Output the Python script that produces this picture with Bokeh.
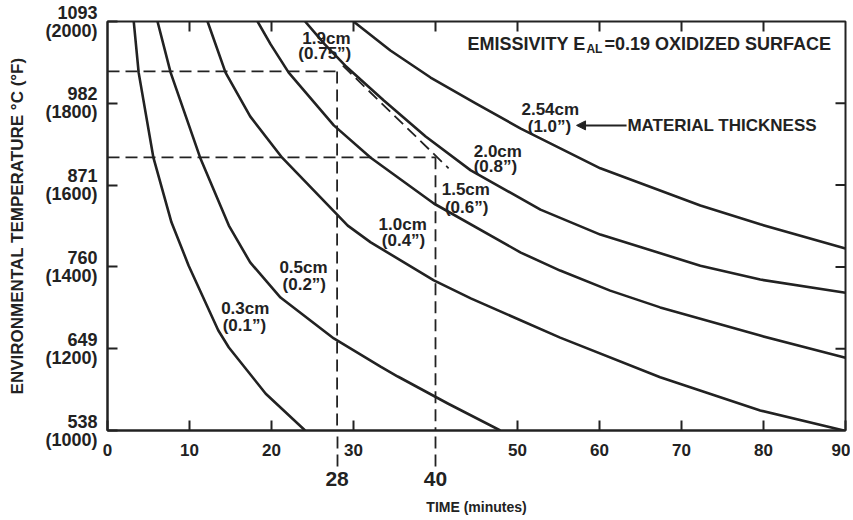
from bokeh.plotting import figure
from bokeh.models import Range1d, FixedTicker, LinearAxis, Arrow, NormalHead
from bokeh.core.properties import value
from bokeh.embed import file_html
from bokeh.resources import INLINE

# ---- data (time in minutes, environmental temperature in deg F) ----
t_03 = [3.2, 3.8, 5.6, 7.8, 9.9, 13.5, 14.8, 19.3, 24.1]
f_03 = [2000, 1875, 1667, 1509, 1403, 1245, 1203, 1090, 1000]
t_05 = [6.1, 7.7, 11.3, 14.8, 17.4, 21.1, 27.6, 33.3, 35.4, 41.5, 47.9]
f_05 = [2000, 1875, 1667, 1501, 1411, 1325, 1225, 1156, 1132, 1066, 1000]
t_10 = [12.2, 14.4, 17.4, 21.3, 29.3, 32.1, 39.8, 44.3, 55.2, 67.4, 79.6, 89.8]
f_10 = [2000, 1875, 1768, 1667, 1501, 1460, 1367, 1323, 1227, 1130, 1049, 1000]
t_15 = [18.3, 19.9, 22.1, 27.6, 32.1, 39.8, 50.4, 55.2, 61.3, 67.4, 79.6, 90]
f_15 = [2000, 1944, 1875, 1746, 1667, 1555, 1435, 1391, 1342, 1301, 1232, 1178]
t_20 = [24.1, 26.5, 29.0, 33.7, 38.8, 44.3, 52.8, 60.1, 72.3, 79.6, 90]
f_20 = [2000, 1944, 1892, 1807, 1719, 1636, 1540, 1479, 1403, 1369, 1337]
t_254 = [30.0, 34.5, 39.4, 44.9, 50.4, 60.1, 72.3, 79.6, 90]
f_254 = [2000, 1929, 1863, 1800, 1738, 1641, 1550, 1504, 1445]
t_19 = [28.7, 41.6]
f_19 = [1892, 1641]

curves = [(t_03, f_03), (t_05, f_05), (t_10, f_10), (t_15, f_15), (t_20, f_20), (t_254, f_254)]

# reference readings (dashed construction lines)
ref_times = [28, 40]
ref_temps = [1878, 1668]

x_ticks = [0, 10, 20, 30, 50, 60, 70, 80, 90]
top_ticks = [10, 20, 30, 40, 50, 60, 70, 80]
y_ticks = [1000, 1200, 1400, 1600, 1800, 2000]
right_ticks = [1200, 1400, 1600, 1800]
y_tick_labels = ["538\n(1000)", "649\n(1200)", "760\n(1400)", "871\n(1600)", "982\n(1800)", "1093\n(2000)"]

label_texts = ["1.9cm", "(0.75\u201d)", "2.54cm", "(1.0\u201d)", "2.0cm", "(0.8\u201d)",
               "1.5cm", "(0.6\u201d)", "1.0cm", "(0.4\u201d)", "0.5cm", "(0.2\u201d)",
               "0.3cm", "(0.1\u201d)"]
label_x = [26.7, 26.5, 54.0, 53.9, 47.6, 47.3, 43.7, 43.8, 36.0, 36.1, 23.9, 24.0, 16.8, 16.7]
label_y = [1958, 1922, 1785, 1743, 1682, 1645, 1589, 1545, 1504, 1465, 1399, 1357, 1298, 1257]

INK = "#222222"
FONT = value("Liberation Sans")
X0, X1, Y0, Y1 = 0, 90, 1000, 2000
TICK_X = 10 / 8.2      # 10 px expressed in minutes
TICK_Y = 10 * 1000 / 409  # 10 px expressed in deg F
DASH_OUT = 36          # length of the dashed reading lines below the frame (px)

p = figure(width=850, height=518, x_range=Range1d(X0, X1), y_range=Range1d(Y0, Y1),
           output_backend="svg", toolbar_location=None,
           min_border_left=107, min_border_right=5, min_border_top=21, min_border_bottom=88)
p.xgrid.visible = False
p.ygrid.visible = False
p.outline_line_color = INK
p.outline_line_width = 2
p.background_fill_color = "white"

for ax in (p.xaxis[0], p.yaxis[0]):
    ax.major_tick_in = 10
    ax.major_tick_out = 0
    ax.minor_tick_line_color = None
    ax.axis_line_width = 2
    ax.axis_line_color = INK
    ax.major_tick_line_width = 2
    ax.major_tick_line_color = INK
    ax.major_label_text_font = "Liberation Sans"
    ax.major_label_text_font_style = "bold"
    ax.major_label_text_font_size = "17px"
    ax.major_label_text_color = INK
    ax.axis_label_text_font = "Liberation Sans"
    ax.axis_label_text_font_style = "bold"
    ax.axis_label_text_color = INK

# bottom axis: minor ticks carry the dashed construction lines below the frame
p.xaxis.ticker = FixedTicker(ticks=x_ticks, minor_ticks=ref_times)
p.xaxis.minor_tick_in = 0
p.xaxis.minor_tick_out = DASH_OUT
p.xaxis.major_label_standoff = 13 - DASH_OUT
p.xaxis.minor_tick_line_color = INK
p.xaxis.minor_tick_line_width = 1.8
p.xaxis.minor_tick_line_dash = "12 6"

# second bottom axis: the highlighted readings 28 / 40 and the axis title
ax2 = LinearAxis(ticker=FixedTicker(ticks=ref_times), axis_line_color=None,
                 major_tick_line_color=None, minor_tick_line_color=None,
                 major_tick_in=0, major_tick_out=0, major_label_standoff=13,
                 major_label_text_font="Liberation Sans", major_label_text_font_style="bold",
                 major_label_text_font_size="21px", major_label_text_color=INK,
                 axis_label="TIME (minutes)", axis_label_standoff=10,
                 axis_label_text_font="Liberation Sans", axis_label_text_font_style="bold",
                 axis_label_text_font_size="14px", axis_label_text_color=INK)
p.add_layout(ax2, "below")

p.yaxis.ticker = FixedTicker(ticks=y_ticks)
p.yaxis.major_label_overrides = {t: s for t, s in zip(y_ticks, y_tick_labels)}
p.yaxis.major_label_text_font_size = "18px"
p.yaxis.major_label_text_line_height = 0.9
p.yaxis.major_label_standoff = 10
p.yaxis.axis_label = "ENVIRONMENTAL TEMPERATURE \u00b0C (\u00b0F)"
p.yaxis.axis_label_text_font_size = "17px"
p.yaxis.axis_label_standoff = 15

# inward tick marks on the top and right frame edges
p.segment(x0=top_ticks, y0=[Y1] * len(top_ticks), x1=top_ticks, y1=[Y1 - TICK_Y] * len(top_ticks),
          line_color=INK, line_width=2)
p.segment(x0=[X1] * len(right_ticks), y0=right_ticks, x1=[X1 - TICK_X] * len(right_ticks), y1=right_ticks,
          line_color=INK, line_width=2)

for t, f in curves:
    p.line(t, f, line_width=2.6, line_color=INK, line_join="round")

# 1.9 cm interpolated (dashed)
p.line(t_19, f_19, line_width=1.8, line_color=INK, line_dash="12 6")

# dashed construction lines inside the frame
for rt, rf in zip(ref_times, ref_temps):
    p.line([X0, rt], [rf, rf], line_width=1.8, line_color=INK, line_dash="12 6")
    p.line([rt, rt], [rf, Y0], line_width=1.8, line_color=INK, line_dash="12 6")

# curve labels
p.text(x=label_x, y=label_y, text=label_texts, text_font=FONT, text_font_style="bold",
       text_font_size="17px", text_align="center", text_baseline="middle", text_color=INK)

# material thickness pointer
p.add_layout(Arrow(x_start=63.3, y_start=1746, x_end=57.2, y_end=1746,
                   end=NormalHead(size=9, fill_color=INK, line_color=INK),
                   line_width=2, line_color=INK))
p.text(x=[63.4], y=[1746], text=["MATERIAL THICKNESS"], text_font=FONT, text_font_style="bold",
       text_font_size="17px", text_align="left", text_baseline="middle", text_color=INK)

# emissivity header
p.text(x=[58.3], y=[1946], text=["EMISSIVITY E"], text_font=FONT, text_font_style="bold",
       text_font_size="18px", text_align="right", text_baseline="middle", text_color=INK)
p.text(x=[58.4], y=[1932], text=["AL"], text_font=FONT, text_font_style="bold",
       text_font_size="12px", text_align="left", text_baseline="middle", text_color=INK)
p.text(x=[60.6], y=[1946], text=["=0.19 OXIDIZED SURFACE"], text_font=FONT, text_font_style="bold",
       text_font_size="18px", text_align="left", text_baseline="middle", text_color=INK)

open("out.html", "w").write(file_html(p, INLINE))
